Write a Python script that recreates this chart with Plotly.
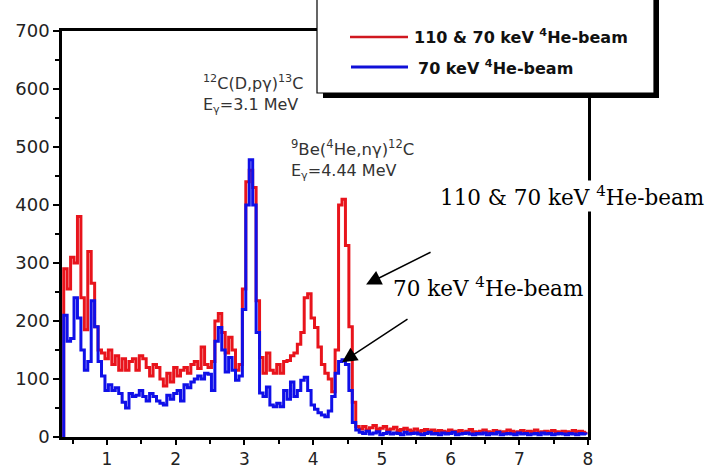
import numpy as np
import plotly.graph_objects as go

# ---------------- data ----------------
bin_start = 0.37
bin_width = 0.05

red_counts = [
    290, 255, 310, 300, 380, 240, 185, 320, 265, 190,
    150, 145, 135, 150, 125, 140, 115, 135, 115, 130,
    135, 115, 140, 135, 120, 105, 125, 120, 100, 88,
    110, 95, 120, 105, 115, 120, 110, 125, 130, 118,
    155, 125, 120, 130, 200, 213, 180, 145, 172, 150,
    115, 125, 255, 440, 460, 430, 235, 137, 110, 145,
    115, 110, 125, 110, 130, 132, 140, 145, 160, 180,
    240, 247, 205, 189, 155, 125, 110, 100, 78, 150,
    400, 410, 330, 190, 60, 18, 14, 18, 12, 16,
    20, 13, 15, 18, 12, 14, 17, 11, 13, 15,
    12, 10, 14, 9, 11, 13, 10, 12, 9, 11,
    10, 8, 12, 10, 9, 11, 8, 10, 13, 9,
    8, 10, 12, 9, 8, 11, 10, 8, 9, 12,
    10, 8, 9, 11, 8, 10, 9, 12, 8, 9,
    10, 8, 11, 9, 8, 10, 9, 8, 11, 9,
    10, 8, 9,
]
blue_counts = [
    210, 165, 170, 240, 205, 150, 115, 130, 235, 190,
    130, 105, 80, 90, 80, 85, 75, 60, 50, 75,
    70, 72, 80, 70, 62, 75, 70, 62, 58, 55,
    72, 65, 75, 80, 62, 90, 85, 95, 100, 105,
    100, 110, 108, 80, 165, 189, 150, 112, 137, 115,
    98, 105, 220, 400, 478, 400, 180, 76, 70, 86,
    55, 52, 58, 52, 80, 65, 95, 70, 80, 98,
    103, 80, 55, 48, 42, 38, 35, 45, 70, 110,
    130, 133, 125, 80, 25, 12, 8, 6, 10, 5,
    7, 9, 4, 6, 8, 5, 7, 6, 4, 8,
    5, 6, 7, 5, 4, 6, 8, 5, 6, 4,
    7, 5, 6, 8, 4, 5, 6, 7, 5, 4,
    6, 5, 7, 4, 6, 5, 8, 4, 5, 6,
    5, 4, 7, 5, 6, 4, 5, 6, 4, 7,
    5, 6, 4, 5, 6, 5, 4, 6, 5, 4,
    6, 5, 4,
]
assert len(red_counts) == len(blue_counts)

energy = [0.35] + [round(bin_start + bin_width * i, 3) for i in range(len(red_counts))]
red = [0] + red_counts
blue = [0] + blue_counts

x_ticks = [1, 2, 3, 4, 5, 6, 7, 8]
y_ticks = [0, 100, 200, 300, 400, 500, 600, 700]

series_red = "110 & 70 keV <sup>4</sup>He-beam"
series_blue = "70 keV <sup>4</sup>He-beam"

# ---------------- layout helpers ----------------
W, H = 707, 469
L, R, T, B = 62, 119, 31, 32
PW, PH = W - L - R, H - T - B


def px(xp):
    return (xp - L) / PW


def py(yp):
    return (H - B - yp) / PH


SANS = "DejaVu Sans, Arial, sans-serif"
SERIF = "DejaVu Serif, Times New Roman, serif"

fig = go.Figure()
fig.add_trace(go.Scatter(x=energy, y=red, mode="lines", line=dict(color="#e8141c", width=3, shape="hv"),
                         name="110 & 70 keV 4He-beam", showlegend=False))
fig.add_trace(go.Scatter(x=energy, y=blue, mode="lines", line=dict(color="#1010e8", width=3, shape="hv"),
                         name="70 keV 4He-beam", showlegend=False))

axis_common = dict(showgrid=False, zeroline=False, showline=True, linecolor="black", linewidth=2.5,
                   mirror=True, ticks="outside", tickcolor="black", tickwidth=2,
                   automargin=False)

fig.update_xaxes(range=[0.345, 8.0], tickvals=x_ticks, ticktext=[str(v) for v in x_ticks], ticklen=5,
                 tickfont=dict(family=SANS, size=17, color="#222"),
                 minor=dict(dtick=1, tick0=0.5, ticks="outside", ticklen=4, tickwidth=2, tickcolor="black"),
                 **axis_common)
fig.update_yaxes(range=[0, 700], tickvals=y_ticks, ticktext=[str(v) for v in y_ticks], ticklen=6,
                 tickfont=dict(family=SANS, size=18, color="#222"),
                 minor=dict(dtick=50, tick0=0, ticks="outside", ticklen=4, tickwidth=2, tickcolor="black"),
                 **axis_common)

shapes = []
shapes.append(dict(type="rect", xref="paper", yref="paper", x0=px(323), x1=px(659), y0=py(98), y1=py(-10),
                   fillcolor="black", line=dict(width=0), layer="above"))
shapes.append(dict(type="rect", xref="paper", yref="paper", x0=px(317), x1=px(654), y0=py(93), y1=py(-10),
                   fillcolor="white", line=dict(color="black", width=1.2), layer="above"))
shapes.append(dict(type="line", xref="paper", yref="paper", x0=px(350), x1=px(408), y0=py(37), y1=py(37),
                   line=dict(color="#d01820", width=2.5), layer="above"))
shapes.append(dict(type="line", xref="paper", yref="paper", x0=px(351), x1=px(408), y0=py(67), y1=py(67),
                   line=dict(color="#1010d8", width=3), layer="above"))
fig.update_layout(shapes=shapes)

annots = []
annots.append(dict(xref="paper", yref="paper", x=px(412), y=py(37), xanchor="left", yanchor="middle",
                   text="<b>" + series_red + "</b>", showarrow=False,
                   font=dict(family=SANS, size=16, color="#111")))
annots.append(dict(xref="paper", yref="paper", x=px(416), y=py(67), xanchor="left", yanchor="middle",
                   text="<b>" + series_blue + "</b>", showarrow=False,
                   font=dict(family=SANS, size=16, color="#111")))

label_font = dict(family=SANS, size=16, color="#333")
annots.append(dict(xref="paper", yref="paper", x=px(201), y=py(82), xanchor="left", yanchor="middle",
                   text="<sup>12</sup>C(D,pγ)<sup>13</sup>C", showarrow=False, font=label_font))
annots.append(dict(xref="paper", yref="paper", x=px(201), y=py(105), xanchor="left", yanchor="middle",
                   text="E<sub>γ</sub>=3.1 MeV", showarrow=False, font=label_font))
annots.append(dict(xref="paper", yref="paper", x=px(289), y=py(148), xanchor="left", yanchor="middle",
                   text="<sup>9</sup>Be(<sup>4</sup>He,nγ)<sup>12</sup>C", showarrow=False,
                   font=dict(family=SANS, size=16.5, color="#333")))
annots.append(dict(xref="paper", yref="paper", x=px(289), y=py(172), xanchor="left", yanchor="middle",
                   text="E<sub>γ</sub>=4.44 MeV", showarrow=False, font=label_font))

serif = dict(family=SERIF, size=21.5, color="black")
annots.append(dict(xref="paper", yref="paper", x=px(438), y=py(196), xanchor="left", yanchor="middle",
                   text=series_red, showarrow=False, font=serif, bgcolor="white"))
annots.append(dict(xref="paper", yref="paper", x=px(391), y=py(287), xanchor="left", yanchor="middle",
                   text=series_blue, showarrow=False, font=serif, bgcolor="white"))

annots.append(dict(xref="x", yref="y", x=4.77, y=263, ax=66, ay=-33, text="", showarrow=True,
                   arrowhead=2, arrowsize=2, arrowwidth=1.5, arrowcolor="black"))
annots.append(dict(xref="x", yref="y", x=4.42, y=129, ax=67, ay=-44, text="", showarrow=True,
                   arrowhead=2, arrowsize=2, arrowwidth=1.5, arrowcolor="black"))
fig.update_layout(annotations=annots)

fig.update_layout(width=W, height=H, margin=dict(l=L, r=R, t=T, b=B, pad=0, autoexpand=False),
                  paper_bgcolor="white", plot_bgcolor="white", showlegend=False)

fig.write_html("out.html",
               post_script="document.body.style.margin='0';document.documentElement.style.overflow='hidden';",
               config={"displayModeBar": False})
